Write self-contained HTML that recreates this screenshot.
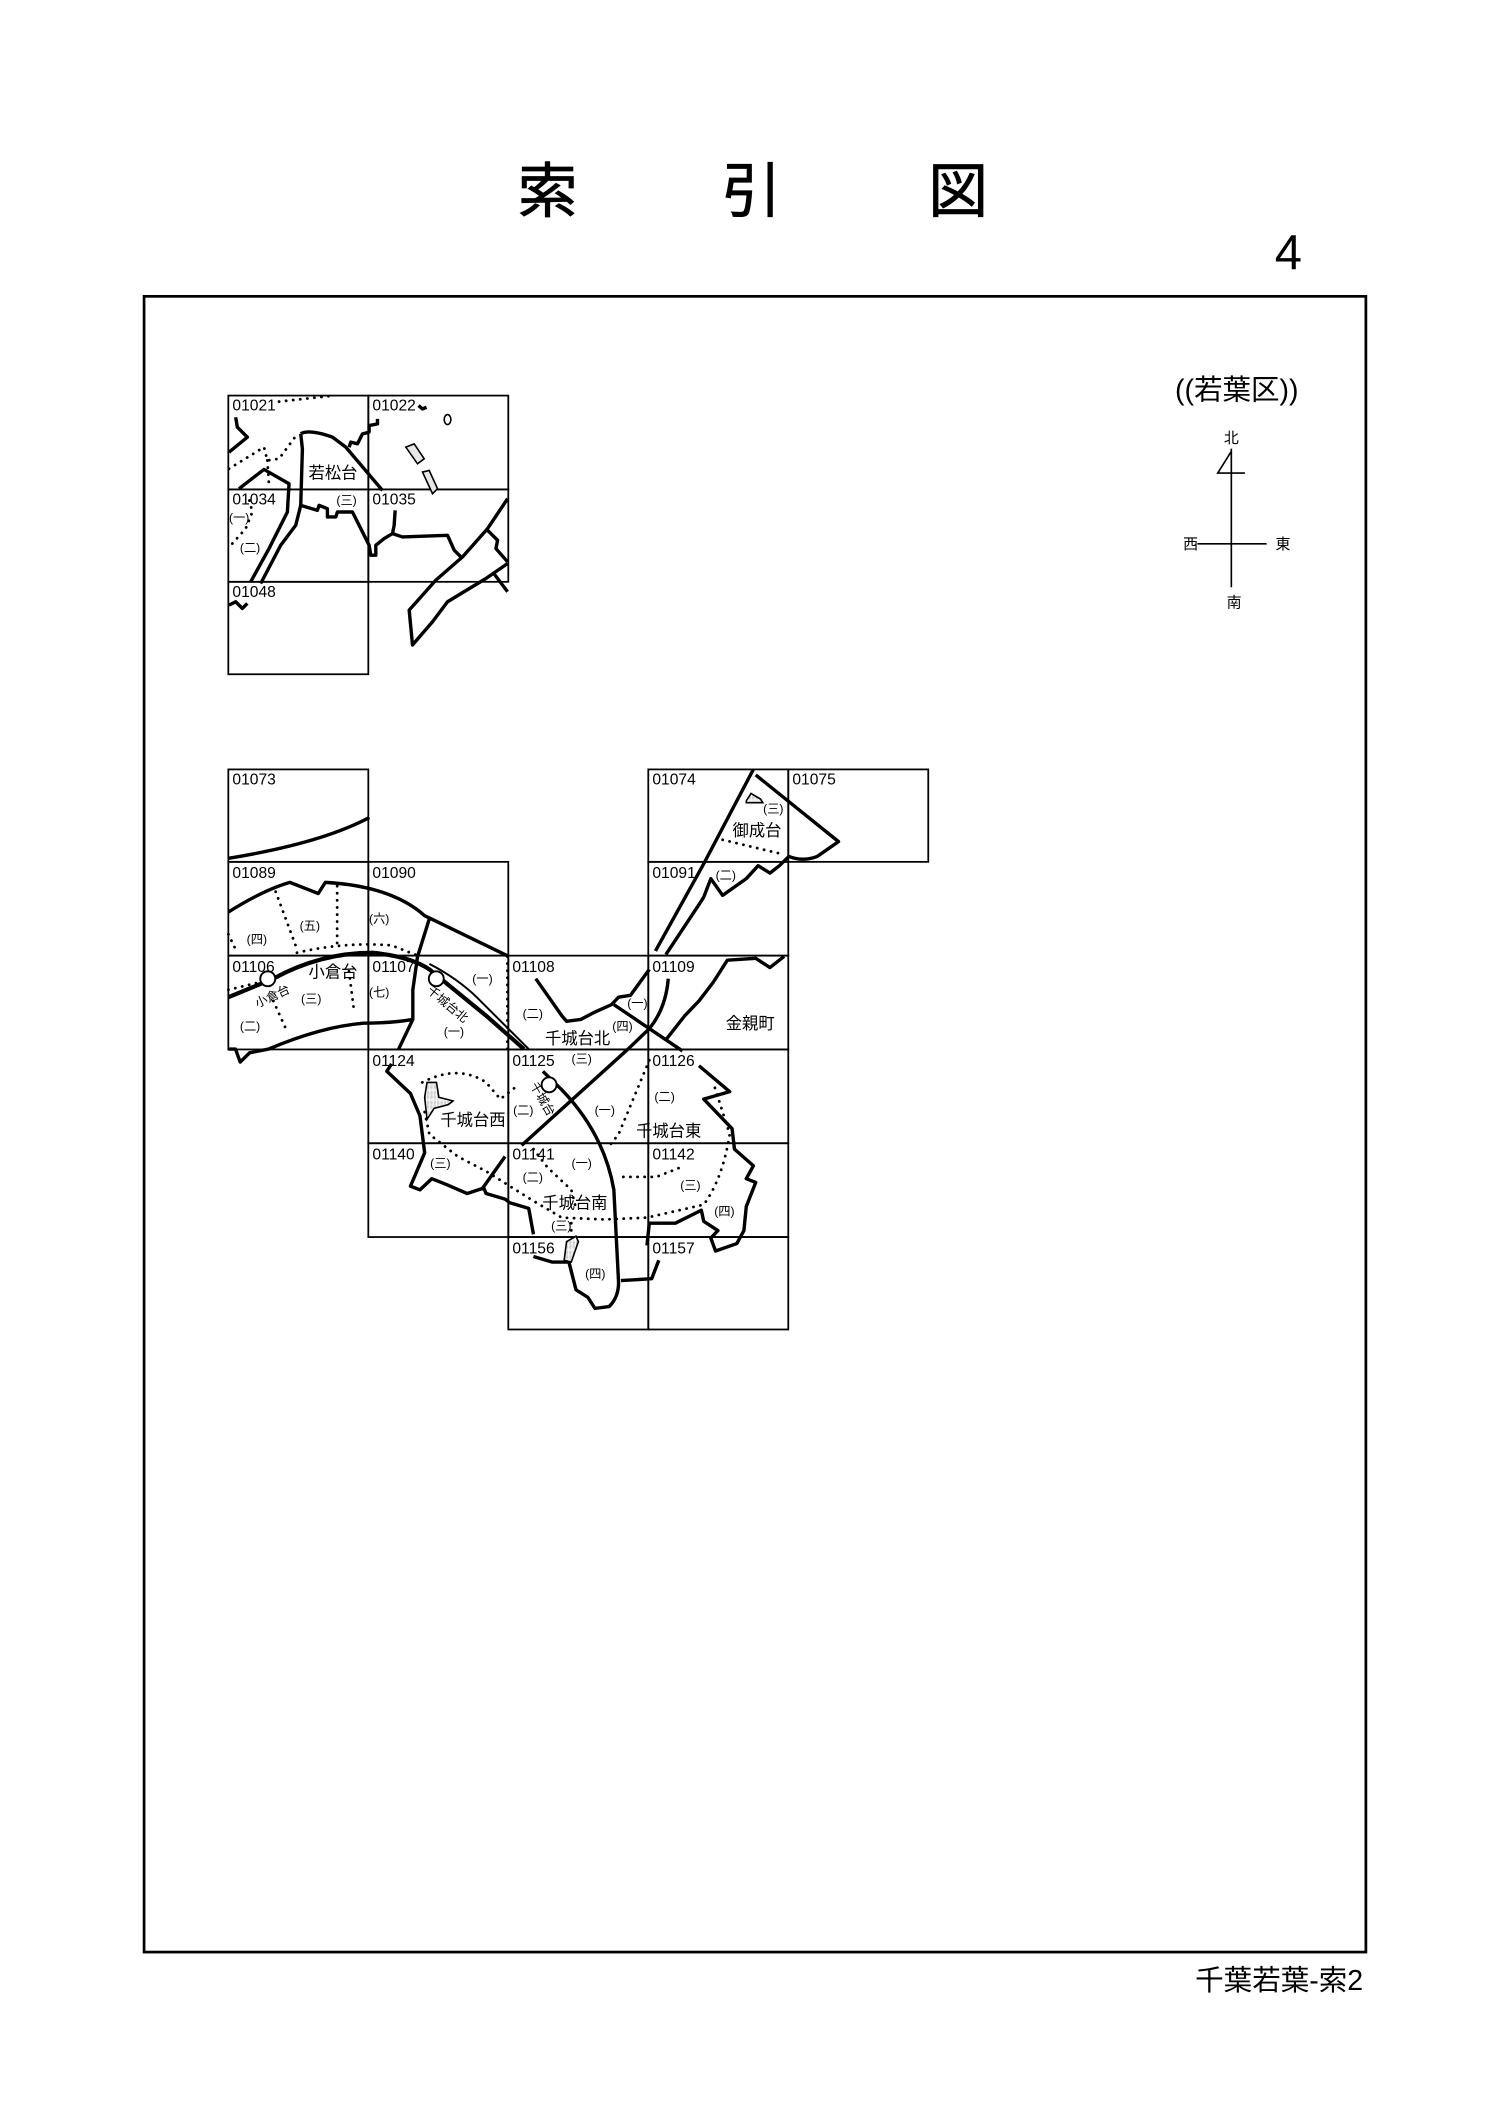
<!DOCTYPE html>
<html><head><meta charset="utf-8"><style>
html,body{margin:0;padding:0;background:#fff;}
svg{display:block;}
text{font-family:"Liberation Sans","Noto Sans CJK JP",sans-serif;fill:#000;}
.n{font-size:11.5px;}
.k{font-size:12px;}
.s{font-size:9px;}
.t{stroke:#000;stroke-width:3.4;fill:none;vector-effect:non-scaling-stroke;stroke-linejoin:round;}
.d{stroke:#000;stroke-width:2.8;fill:none;stroke-dasharray:0.1 7;stroke-linecap:round;vector-effect:non-scaling-stroke;}
.p{stroke:#000;stroke-width:1.6;fill:#fff;vector-effect:non-scaling-stroke;}
.g{stroke:#000;stroke-width:1.3;fill:none;}
</style></head><body>
<svg width="1495" height="2122" viewBox="0 0 1100 1561" preserveAspectRatio="none">
<defs><pattern id="dots" width="3" height="3" patternUnits="userSpaceOnUse"><rect width="3" height="3" fill="#fff"/><circle cx="1.5" cy="1.5" r="0.6" fill="#000"/></pattern></defs>
<text x="403" y="156" font-size="44" text-anchor="middle" stroke="#000" stroke-width="0.6">索</text>
<text x="553" y="156" font-size="44" text-anchor="middle" stroke="#000" stroke-width="0.6">引</text>
<text x="705" y="156" font-size="44" text-anchor="middle" stroke="#000" stroke-width="0.6">図</text>
<text x="948" y="198" font-size="36" text-anchor="middle">4</text>
<rect x="106" y="218" width="899" height="1218" fill="none" stroke="#000" stroke-width="2"/>
<text x="910" y="294" font-size="21" text-anchor="middle">((若葉区))</text>
<g stroke="#000" stroke-width="1.2" fill="none">
<line x1="906" y1="330" x2="906" y2="432"/><line x1="881" y1="400" x2="932" y2="400"/>
<polyline points="906,332 896,348 916,348"/></g>
<text x="906" y="326" font-size="11" text-anchor="middle">北</text>
<text x="876" y="404" font-size="11" text-anchor="middle">西</text>
<text x="944" y="404" font-size="11" text-anchor="middle">東</text>
<text x="908" y="447" font-size="11" text-anchor="middle">南</text>
<text x="1003" y="1464" font-size="21" text-anchor="end">千葉若葉-索2</text>

<!-- top grid -->
<g class="g">
<rect x="168" y="291" width="103" height="69"/><rect x="271" y="291" width="103" height="69"/>
<rect x="168" y="360" width="103" height="68"/><rect x="271" y="360" width="103" height="68"/>
<rect x="168" y="428" width="103" height="68"/>
</g>
<g transform="translate(148.85,273.9) scale(0.2455,0.2446)">
<path class="t" d="M100,135 L105,165 L135,195 L80,240"/>
<path class="d" d="M230,88 L395,70"/>
<path class="d" d="M80,290 L185,225 L195,265 L230,260 L285,185"/>
<path class="d" d="M195,265 L200,340"/>
<path class="d" d="M90,515 L130,470 L150,420 L140,380"/>
<path class="t" d="M110,350 L185,292 L260,335 L255,420 L200,530 L145,630"/>
<path class="t" d="M295,185 L300,230 L295,400 L280,460 L235,520 L175,635"/>
<path class="t" d="M295,185 Q320,170 390,195 L430,225 L540,355"/>
<path class="t" d="M440,225 L445,210 L465,215 L480,185 L500,180 L500,160 L525,155 L525,140"/>
<path class="t" d="M295,400 L345,415 L350,400 L375,410 L375,435 L400,435 L405,420 L450,420 L480,480 L500,520 L505,550 L520,550 L520,520 L545,500 L570,485 L575,460 L578,415"/>
<path class="t" d="M570,485 L600,495 L735,490 L755,535 L775,555"/>
<path class="t" d="M915,380 L855,470 L780,555 L700,625 L620,715 L630,820 L690,750 L735,690 L850,620 L915,575"/>
<path class="t" d="M855,475 L885,505 L880,530 L915,570"/>
<path class="t" d="M870,600 L915,660"/>
<path class="t" d="M80,700 L100,690 L120,710 L135,695"/>
<ellipse class="p" cx="735" cy="142" rx="10" ry="15"/>
<polygon class="p" style="fill:url(#dots)" points="610,225 635,215 665,260 645,275"/>
<polygon class="p" style="fill:url(#dots)" points="660,300 680,295 705,350 690,365"/>
<path class="t" d="M648,100 L660,110 L672,105"/>
</g>
<text class="n" x="171" y="302">01021</text><text class="n" x="274" y="302">01022</text>
<text class="n" x="171" y="371">01034</text><text class="n" x="274" y="371">01035</text>
<text class="n" x="171" y="439">01048</text>
<text class="k" x="245" y="352" text-anchor="middle">若松台</text>
<text class="s" x="255" y="371" text-anchor="middle">(三)</text>
<text class="s" x="176" y="384" text-anchor="middle">(一)</text>
<text class="s" x="184" y="406" text-anchor="middle">(二)</text>

<!-- lower grid -->
<g class="g">
<rect x="168" y="566" width="103" height="68"/>
<rect x="477" y="566" width="103" height="68"/><rect x="580" y="566" width="103" height="68"/>
<rect x="168" y="634" width="103" height="69"/><rect x="271" y="634" width="103" height="69"/><rect x="477" y="634" width="103" height="69"/>
<rect x="168" y="703" width="103" height="69"/><rect x="271" y="703" width="103" height="69"/><rect x="374" y="703" width="103" height="69"/><rect x="477" y="703" width="103" height="69"/>
<rect x="271" y="772" width="103" height="69"/><rect x="374" y="772" width="103" height="69"/><rect x="477" y="772" width="103" height="69"/>
<rect x="271" y="841" width="103" height="69"/><rect x="374" y="841" width="103" height="69"/><rect x="477" y="841" width="103" height="69"/>
<rect x="374" y="910" width="103" height="68"/><rect x="477" y="910" width="103" height="68"/>
</g>
<g transform="translate(148.9,561.9) scale(0.348,0.2725)">
<path class="t" d="M55,255 Q250,215 353,145"/>
<path class="t" d="M55,400 Q130,340 185,320 L245,350 L260,320 Q400,330 470,410 L648,520"/>
<path class="t" d="M480,418 L455,520"/>
<path class="d" d="M155,345 L200,500"/><path class="d" d="M285,330 L285,500"/><path class="d" d="M55,460 L70,500"/>
<path class="t" style="stroke-width:4.2" d="M55,630 L150,580 Q250,510 360,510 Q440,520 480,555 L600,680 L680,770"/>
<path class="t" style="stroke-width:2" d="M480,540 Q540,580 580,630 L690,770"/>
<path class="d" d="M200,510 Q300,480 400,490 L460,520"/>
<path class="t" d="M55,770 L70,770 L80,805 L100,780 L140,770 Q250,710 340,700 Q400,700 445,690"/>
<path class="t" d="M455,520 L445,610 L445,690 L415,770"/>
<path class="d" d="M150,640 L180,725"/><path class="d" d="M310,560 L320,660"/><path class="d" d="M55,610 L120,590"/>
<path class="d" d="M645,520 L645,770"/>
<path class="t" d="M705,580 L760,680 L770,695 L800,690 L830,670 L865,650 L880,630 L905,625 L925,590 L945,555"/>
<path class="t" d="M958,505 L1060,270 L1165,15"/>
<path class="t" d="M980,515 L1050,380 L1060,360 L1075,310 L1100,355 L1150,310 L1175,275 L1200,295 L1220,275 L1240,250 Q1270,265 1300,250 L1345,210 L1170,30"/>
<path class="t" d="M980,745 L1020,680 L1050,640 L1080,590 L1110,530 L1170,525 L1200,550 L1230,520"/>
<path class="t" d="M870,650 L1015,775"/>
<path class="t" d="M675,1030 L900,770 L945,715 Q980,660 985,580"/>
<path class="t" d="M720,830 L760,880 Q850,1000 870,1150 L880,1400 Q880,1440 860,1465 L830,1470 L815,1440 L790,1420 L775,1345 L785,1280"/>
<path class="t" d="M700,1330 L740,1345 L775,1345"/>
<path class="t" d="M885,1395 L950,1390 L965,1340"/>
<path class="t" d="M1050,815 L1115,885 L1060,905 L1120,985 L1125,1040 L1165,1085 L1150,1120 L1170,1130 L1150,1195 L1145,1260 L1130,1295 L1085,1315 L1075,1280 L1090,1260 L1060,1235 L1055,1205 L1000,1240 L945,1240 L940,1300"/>
<path class="t" d="M400,810 L390,830 L440,890 L460,950 L470,1050 L440,1140 L460,1150 L485,1120 L515,1135 L560,1160 L595,1145 L600,1160 L640,1175 L650,1185 L690,1200 L700,1270"/>
<path class="t" d="M640,1060 L590,1150"/>
<path class="d" d="M465,860 Q540,810 600,860 L630,905 L665,870"/>
<path class="d" d="M470,940 L480,1000 L540,1060 L600,1100 L700,1180 L760,1225 L850,1230 L940,1225 L1060,1190 Q1100,1120 1115,1000 L1080,860"/>
<path class="d" d="M890,1115 L960,1115 L1010,1090"/>
<path class="d" d="M945,800 L880,1000 L855,1040"/>
<path class="d" d="M700,1040 L730,1090 L780,1150 L790,1200"/>
<path class="d" d="M780,1240 L780,1270"/>
<path class="d" d="M1100,205 L1230,245"/>
<polygon class="p" style="fill:url(#dots)" points="475,860 495,860 500,900 530,910 520,920 490,930 475,960 470,900"/>
<polygon class="p" style="fill:url(#dots)" points="770,1290 790,1275 795,1290 780,1345 765,1340"/>
<polygon class="p" style="fill:url(#dots)" points="1150,100 1160,80 1180,95 1185,105 1150,105"/>
</g>
<g fill="#fff" stroke="#000" stroke-width="1.4">
<circle cx="197" cy="720" r="5.5"/><circle cx="321" cy="720" r="5.5"/><circle cx="404" cy="798" r="5.5"/>
</g>
<text class="n" x="171" y="577">01073</text><text class="n" x="480" y="577">01074</text><text class="n" x="583" y="577">01075</text>
<text class="n" x="171" y="646">01089</text><text class="n" x="274" y="646">01090</text><text class="n" x="480" y="646">01091</text>
<text class="n" x="171" y="715">01106</text><text class="n" x="274" y="715">01107</text><text class="n" x="377" y="715">01108</text><text class="n" x="480" y="715">01109</text>
<text class="n" x="274" y="784">01124</text><text class="n" x="377" y="784">01125</text><text class="n" x="480" y="784">01126</text>
<text class="n" x="274" y="853">01140</text><text class="n" x="377" y="853">01141</text><text class="n" x="480" y="853">01142</text>
<text class="n" x="377" y="922">01156</text><text class="n" x="480" y="922">01157</text>
<text class="k" x="557" y="615" text-anchor="middle">御成台</text>
<text class="k" x="245" y="719" text-anchor="middle" font-size="13">小倉台</text>
<text class="k" x="425" y="768" text-anchor="middle">千城台北</text>
<text class="k" x="552" y="757" text-anchor="middle">金親町</text>
<text class="k" x="348" y="828" text-anchor="middle">千城台西</text>
<text class="k" x="492" y="836" text-anchor="middle">千城台東</text>
<text class="k" x="423" y="889" text-anchor="middle">千城台南</text>
<text class="s" x="200" y="736" text-anchor="middle" transform="rotate(-25 200 732)">小倉台</text>
<text class="s" x="330" y="742" text-anchor="middle" transform="rotate(40 330 738)">千城台北</text>
<text class="s" x="400" y="812" text-anchor="middle" transform="rotate(60 400 808)">千城台</text>
<g class="s" text-anchor="middle" font-size="9">
<text x="569" y="598">(三)</text><text x="534" y="647">(二)</text>
<text x="189" y="694">(四)</text><text x="228" y="684">(五)</text><text x="279" y="679">(六)</text>
<text x="229" y="738">(三)</text><text x="279" y="733">(七)</text><text x="184" y="758">(二)</text>
<text x="355" y="723">(一)</text><text x="334" y="762">(一)</text>
<text x="392" y="749">(二)</text><text x="469" y="741">(一)</text><text x="458" y="758">(四)</text><text x="428" y="782">(三)</text>
<text x="385" y="820">(二)</text><text x="445" y="820">(一)</text><text x="489" y="810">(二)</text>
<text x="324" y="859">(三)</text><text x="392" y="869">(二)</text><text x="428" y="859">(一)</text><text x="508" y="875">(三)</text><text x="533" y="894">(四)</text>
<text x="413" y="905">(三)</text><text x="438" y="940">(四)</text>
</g>
</svg>
</body></html>
